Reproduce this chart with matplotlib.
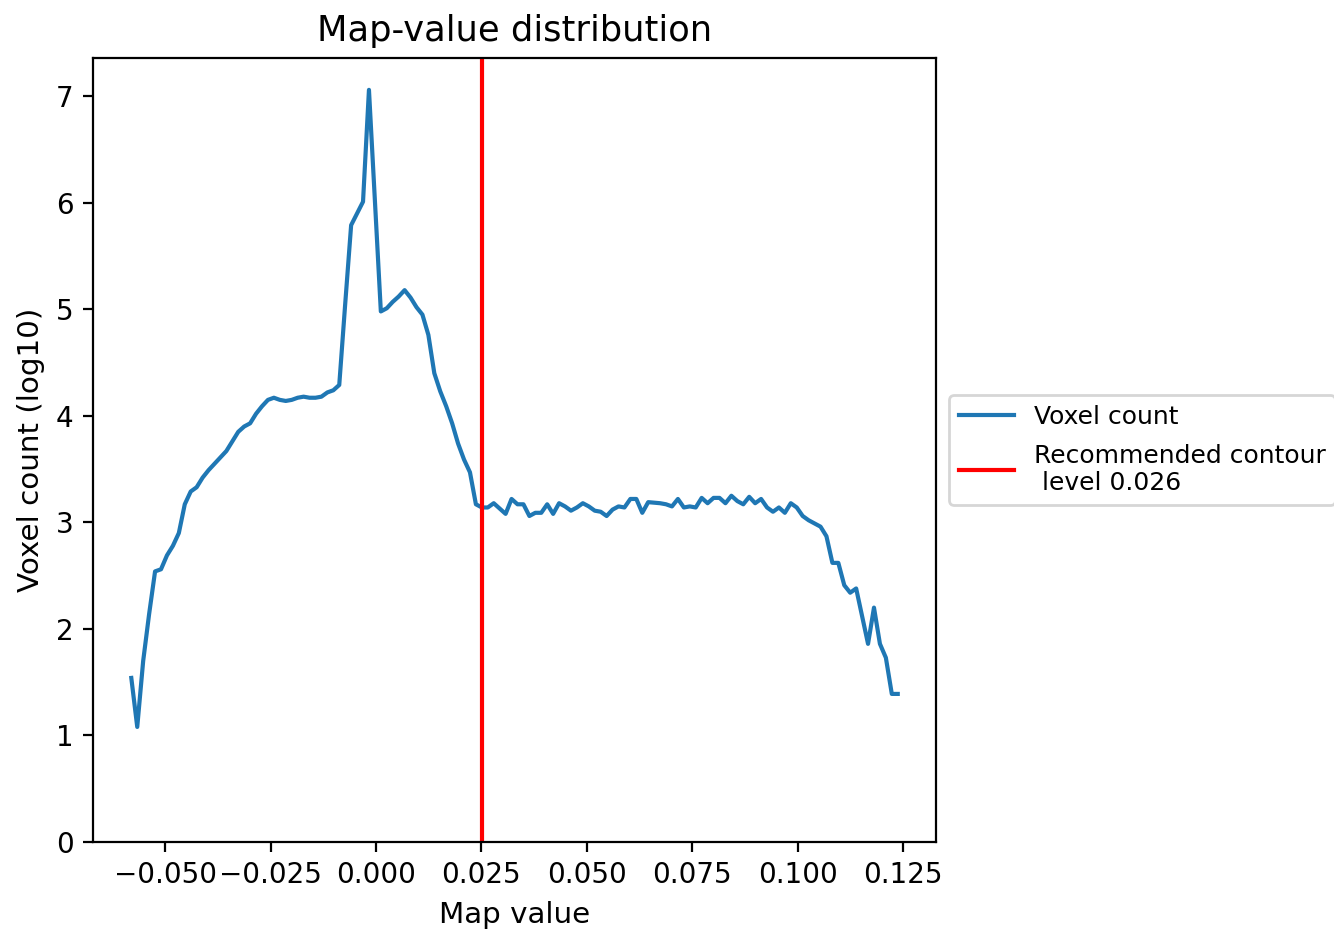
import matplotlib
matplotlib.use('Agg')
import matplotlib.pyplot as plt
import numpy as np

# map value bin centres (130 bins between min and max of the map)
map_min = -0.0580
map_max = 0.1237
n_bins = 130

# log10 of voxel count per bin
voxel_log = [
    1.54, 1.08, 1.70, 2.14, 2.54, 2.56, 2.69, 2.78, 2.90, 3.17,
    3.29, 3.33, 3.42, 3.49, 3.55, 3.61, 3.67, 3.76, 3.85, 3.90,
    3.93, 4.02, 4.09, 4.15, 4.17, 4.15, 4.14, 4.15, 4.17, 4.18,
    4.17, 4.17, 4.18, 4.22, 4.24, 4.29, 5.05, 5.79, 5.90, 6.01,
    7.06, 6.02, 4.98, 5.01, 5.07, 5.12, 5.18, 5.11, 5.02, 4.95,
    4.76, 4.40, 4.23, 4.09, 3.93, 3.74, 3.59, 3.47, 3.17, 3.14,
    3.14, 3.18, 3.13, 3.08, 3.22, 3.17, 3.17, 3.06, 3.09, 3.09,
    3.17, 3.08, 3.18, 3.15, 3.11, 3.14, 3.18, 3.15, 3.11, 3.10,
    3.06, 3.12, 3.15, 3.14, 3.22, 3.22, 3.09, 3.19, 3.185, 3.18,
    3.17, 3.15, 3.22, 3.14, 3.15, 3.14, 3.23, 3.18, 3.23, 3.23,
    3.18, 3.25, 3.20, 3.17, 3.24, 3.18, 3.22, 3.14, 3.10, 3.14,
    3.09, 3.18, 3.14, 3.06, 3.02, 2.99, 2.96, 2.87, 2.62, 2.62,
    2.41, 2.34, 2.38, 2.12, 1.86, 2.20, 1.86, 1.73, 1.39, 1.39,
]

contour_level = 0.0252
contour_label = 'Recommended contour\n level 0.026'

map_values = np.linspace(map_min, map_max, n_bins)

fig = plt.figure(figsize=(6.67, 4.67), dpi=200)
ax = fig.add_axes([0.0697, 0.0985, 0.632, 0.8394])

ax.plot(map_values, voxel_log, label='Voxel count')
ax.axvline(contour_level, color='red', label=contour_label)

ax.set_ylim(bottom=0)
ax.set_title('Map-value distribution', fontsize=12.7)
ax.set_xlabel('Map value', fontsize=10.6)
ax.set_ylabel('Voxel count (log10)', fontsize=10.6)
ax.legend(loc='center left', bbox_to_anchor=(1, 0.5), fontsize=9,
          handlelength=2.2, labelspacing=0.6)

fig.savefig('out.png', dpi=200)
